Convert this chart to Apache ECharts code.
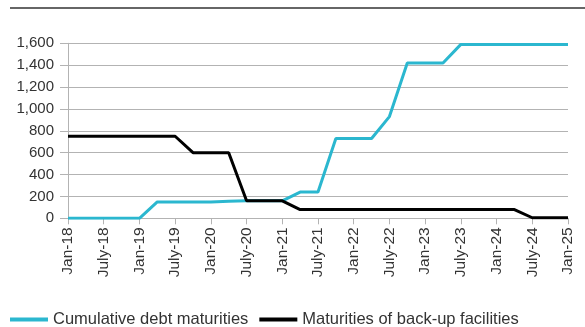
<!DOCTYPE html>
<html>
<head>
<meta charset="utf-8">
<script src="https://cdn.jsdelivr.net/npm/echarts@6/dist/echarts.min.js"></script>
<style>
  html, body { margin: 0; padding: 0; background: #fff; }
  #chart { width: 585px; height: 327px; }
</style>
</head>
<body>
<div id="chart"></div>
<script>
// Quarterly observation points, Jan-18 through Jan-25
const quarters = [
  'Jan-18', 'Apr-18', 'July-18', 'Oct-18',
  'Jan-19', 'Apr-19', 'July-19', 'Oct-19',
  'Jan-20', 'Apr-20', 'July-20', 'Oct-20',
  'Jan-21', 'Apr-21', 'July-21', 'Oct-21',
  'Jan-22', 'Apr-22', 'July-22', 'Oct-22',
  'Jan-23', 'Apr-23', 'July-23', 'Oct-23',
  'Jan-24', 'Apr-24', 'July-24', 'Oct-24',
  'Jan-25'
];

// Cumulative debt maturities
const cumulativeDebt = [
  0, 0, 0, 0,
  0, 150, 150, 150,
  150, 155, 160, 160,
  160, 240, 240, 730,
  730, 730, 930, 1420,
  1420, 1420, 1590, 1590,
  1590, 1590, 1590, 1590,
  1590
];

// Maturities of back-up facilities
const backupFacilities = [
  750, 750, 750, 750,
  750, 750, 750, 600,
  600, 600, 160, 160,
  160, 80, 80, 80,
  80, 80, 80, 80,
  80, 80, 80, 80,
  80, 80, 5, 5,
  5
];

const yTicks = [0, 200, 400, 600, 800, 1000, 1200, 1400, 1600];

const seriesNames = ['Cumulative debt maturities', 'Maturities of back-up facilities'];

const font = '"Liberation Sans", Arial, sans-serif';
const textColor = '#333';
const gridColor = '#b3b3b3';

const chart = echarts.init(document.getElementById('chart'), null, { renderer: 'canvas' });

chart.setOption({
  animation: false,
  textStyle: { fontFamily: font },
  graphic: [{
    type: 'line',
    shape: { x1: 10, y1: 8, x2: 585, y2: 8 },
    style: { stroke: '#333', lineWidth: 1.5 }
  }],
  grid: { left: 68, right: 17, top: 43.3, bottom: 108.7, containLabel: false },
  legend: {
    left: 5,
    top: 306,
    itemWidth: 38,
    itemHeight: 4,
    itemGap: 11,
    icon: 'rect',
    textStyle: { color: textColor, fontSize: 16.5, fontFamily: font },
    data: seriesNames
  },
  xAxis: {
    type: 'category',
    data: quarters,
    boundaryGap: false,
    axisLine: { lineStyle: { color: gridColor, width: 1 } },
    axisTick: { interval: 1, length: 6, lineStyle: { color: gridColor } },
    axisLabel: {
      interval: 1,
      rotate: 90,
      margin: 9,
      color: textColor,
      fontSize: 15.5,
      fontFamily: font
    },
    splitLine: { show: false }
  },
  yAxis: {
    type: 'value',
    min: yTicks[0],
    max: yTicks[yTicks.length - 1],
    interval: 200,
    axisLine: { show: true, lineStyle: { color: gridColor, width: 1 } },
    axisTick: { show: true, length: 8, lineStyle: { color: gridColor } },
    axisLabel: {
      margin: 14,
      color: textColor,
      fontSize: 15,
      fontFamily: font,
      formatter: v => v.toLocaleString('en-US')
    },
    splitLine: { lineStyle: { color: gridColor, width: 1 } }
  },
  series: [
    {
      name: seriesNames[0],
      type: 'line',
      data: cumulativeDebt,
      symbol: 'none',
      lineStyle: { color: '#2bb7cf', width: 3 },
      itemStyle: { color: '#2bb7cf' },
      z: 2
    },
    {
      name: seriesNames[1],
      type: 'line',
      data: backupFacilities,
      symbol: 'none',
      lineStyle: { color: '#000', width: 3 },
      itemStyle: { color: '#000' },
      z: 3
    }
  ]
});
</script>
</body>
</html>
